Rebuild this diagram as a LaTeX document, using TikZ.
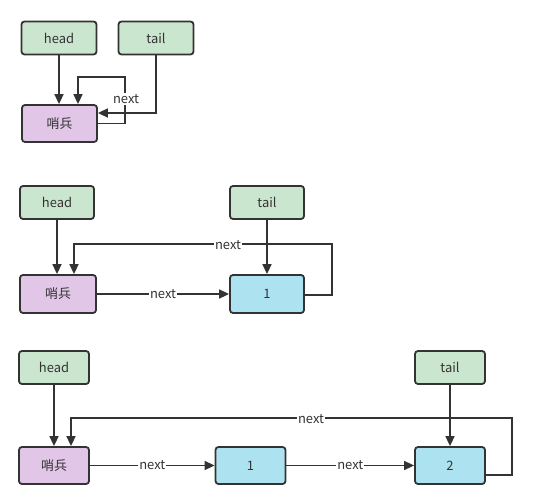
\documentclass[tikz,border=0pt]{standalone}
\usepackage{fontspec}
\setmainfont{Noto Sans CJK SC}
\usetikzlibrary{arrows.meta}
\definecolor{gfill}{HTML}{CBE6CF}
\definecolor{pfill}{HTML}{E2C6E8}
\definecolor{bfill}{HTML}{ADE3F1}
\definecolor{ink}{HTML}{333333}
\begin{document}
\begin{tikzpicture}[x=1bp,y=-1bp,
  font=\fontsize{13}{15}\selectfont, text=ink,
  box/.style={draw=ink, line width=1.8bp, rounded corners=3bp, inner sep=0pt},
  ptr/.style={box, fill=gfill},
  sent/.style={box, fill=pfill},
  item/.style={box, fill=bfill},
  arr/.style={draw=ink, line width=1.6bp, -{Triangle[length=10bp,width=9bp]}},
  lbl/.style={fill=white, inner sep=1bp, text=ink}]
\useasboundingbox (0,0) rectangle (557,503);
% ---------- diagram 1 ----------
\node[ptr, minimum width=75bp, minimum height=33bp] (h1) at (59,38) {head};
\node[ptr, minimum width=75bp, minimum height=33bp] (t1) at (156,38) {tail};
\node[sent, minimum width=75bp, minimum height=37bp] (s1) at (59.5,123.5) {哨兵};
\coordinate (c1) at (125,77);
\draw[arr] (h1.south) -- (h1.south |- s1.north);
\draw[arr] (s1.east) -| (c1) -| ([xshift=18.5bp]s1.north);
\node[lbl] (l1) at (126,99) {next};
\draw[arr] (t1.south) |- ([yshift=10.5bp]s1.east);
% ---------- diagram 2 ----------
\node[ptr, minimum width=74bp, minimum height=33bp] (h2) at (57,202.5) {head};
\node[ptr, minimum width=74bp, minimum height=33bp] (t2) at (267,202.5) {tail};
\node[sent, minimum width=76bp, minimum height=38bp] (s2) at (58,294) {哨兵};
\node[item, minimum width=74bp, minimum height=38bp] (n21) at (267,294) {1};
\coordinate (c2) at (332,244);
\draw[arr] (h2.south) -- (h2.south |- s2.north);
\draw[arr] ([yshift=-1bp]n21.east) -| (c2) -| ([xshift=16bp]s2.north);
\node[lbl] (l2) at (228,245) {next};
\draw[arr] (t2.south) -- (n21.north);
\draw[arr] (s2.east) -- node[lbl] (l3) {next} (n21.west);
% ---------- diagram 3 ----------
\node[ptr, minimum width=70bp, minimum height=33bp] (h3) at (54,367.5) {head};
\node[ptr, minimum width=70bp, minimum height=33bp] (t3) at (450,367.5) {tail};
\node[sent, minimum width=70bp, minimum height=37bp] (s3) at (54,465.5) {哨兵};
\node[item, minimum width=70bp, minimum height=37bp] (n31) at (250.5,465.5) {1};
\node[item, minimum width=70bp, minimum height=37bp] (n32) at (450,465.5) {2};
\coordinate (c3) at (512,418);
\draw[arr] (h3.south) -- (h3.south |- s3.north);
\draw[arr] ([yshift=-9.5bp]n32.east) -| (c3) -| ([xshift=17bp]s3.north);
\node[lbl] (l4) at (311,419) {next};
\draw[arr] (t3.south) -- (n32.north);
\draw[arr] (s3.east) -- node[lbl] (l5) {next} (n31.west);
\draw[arr] (n31.east) -- node[lbl] (l6) {next} (n32.west);
\end{tikzpicture}
\end{document}
